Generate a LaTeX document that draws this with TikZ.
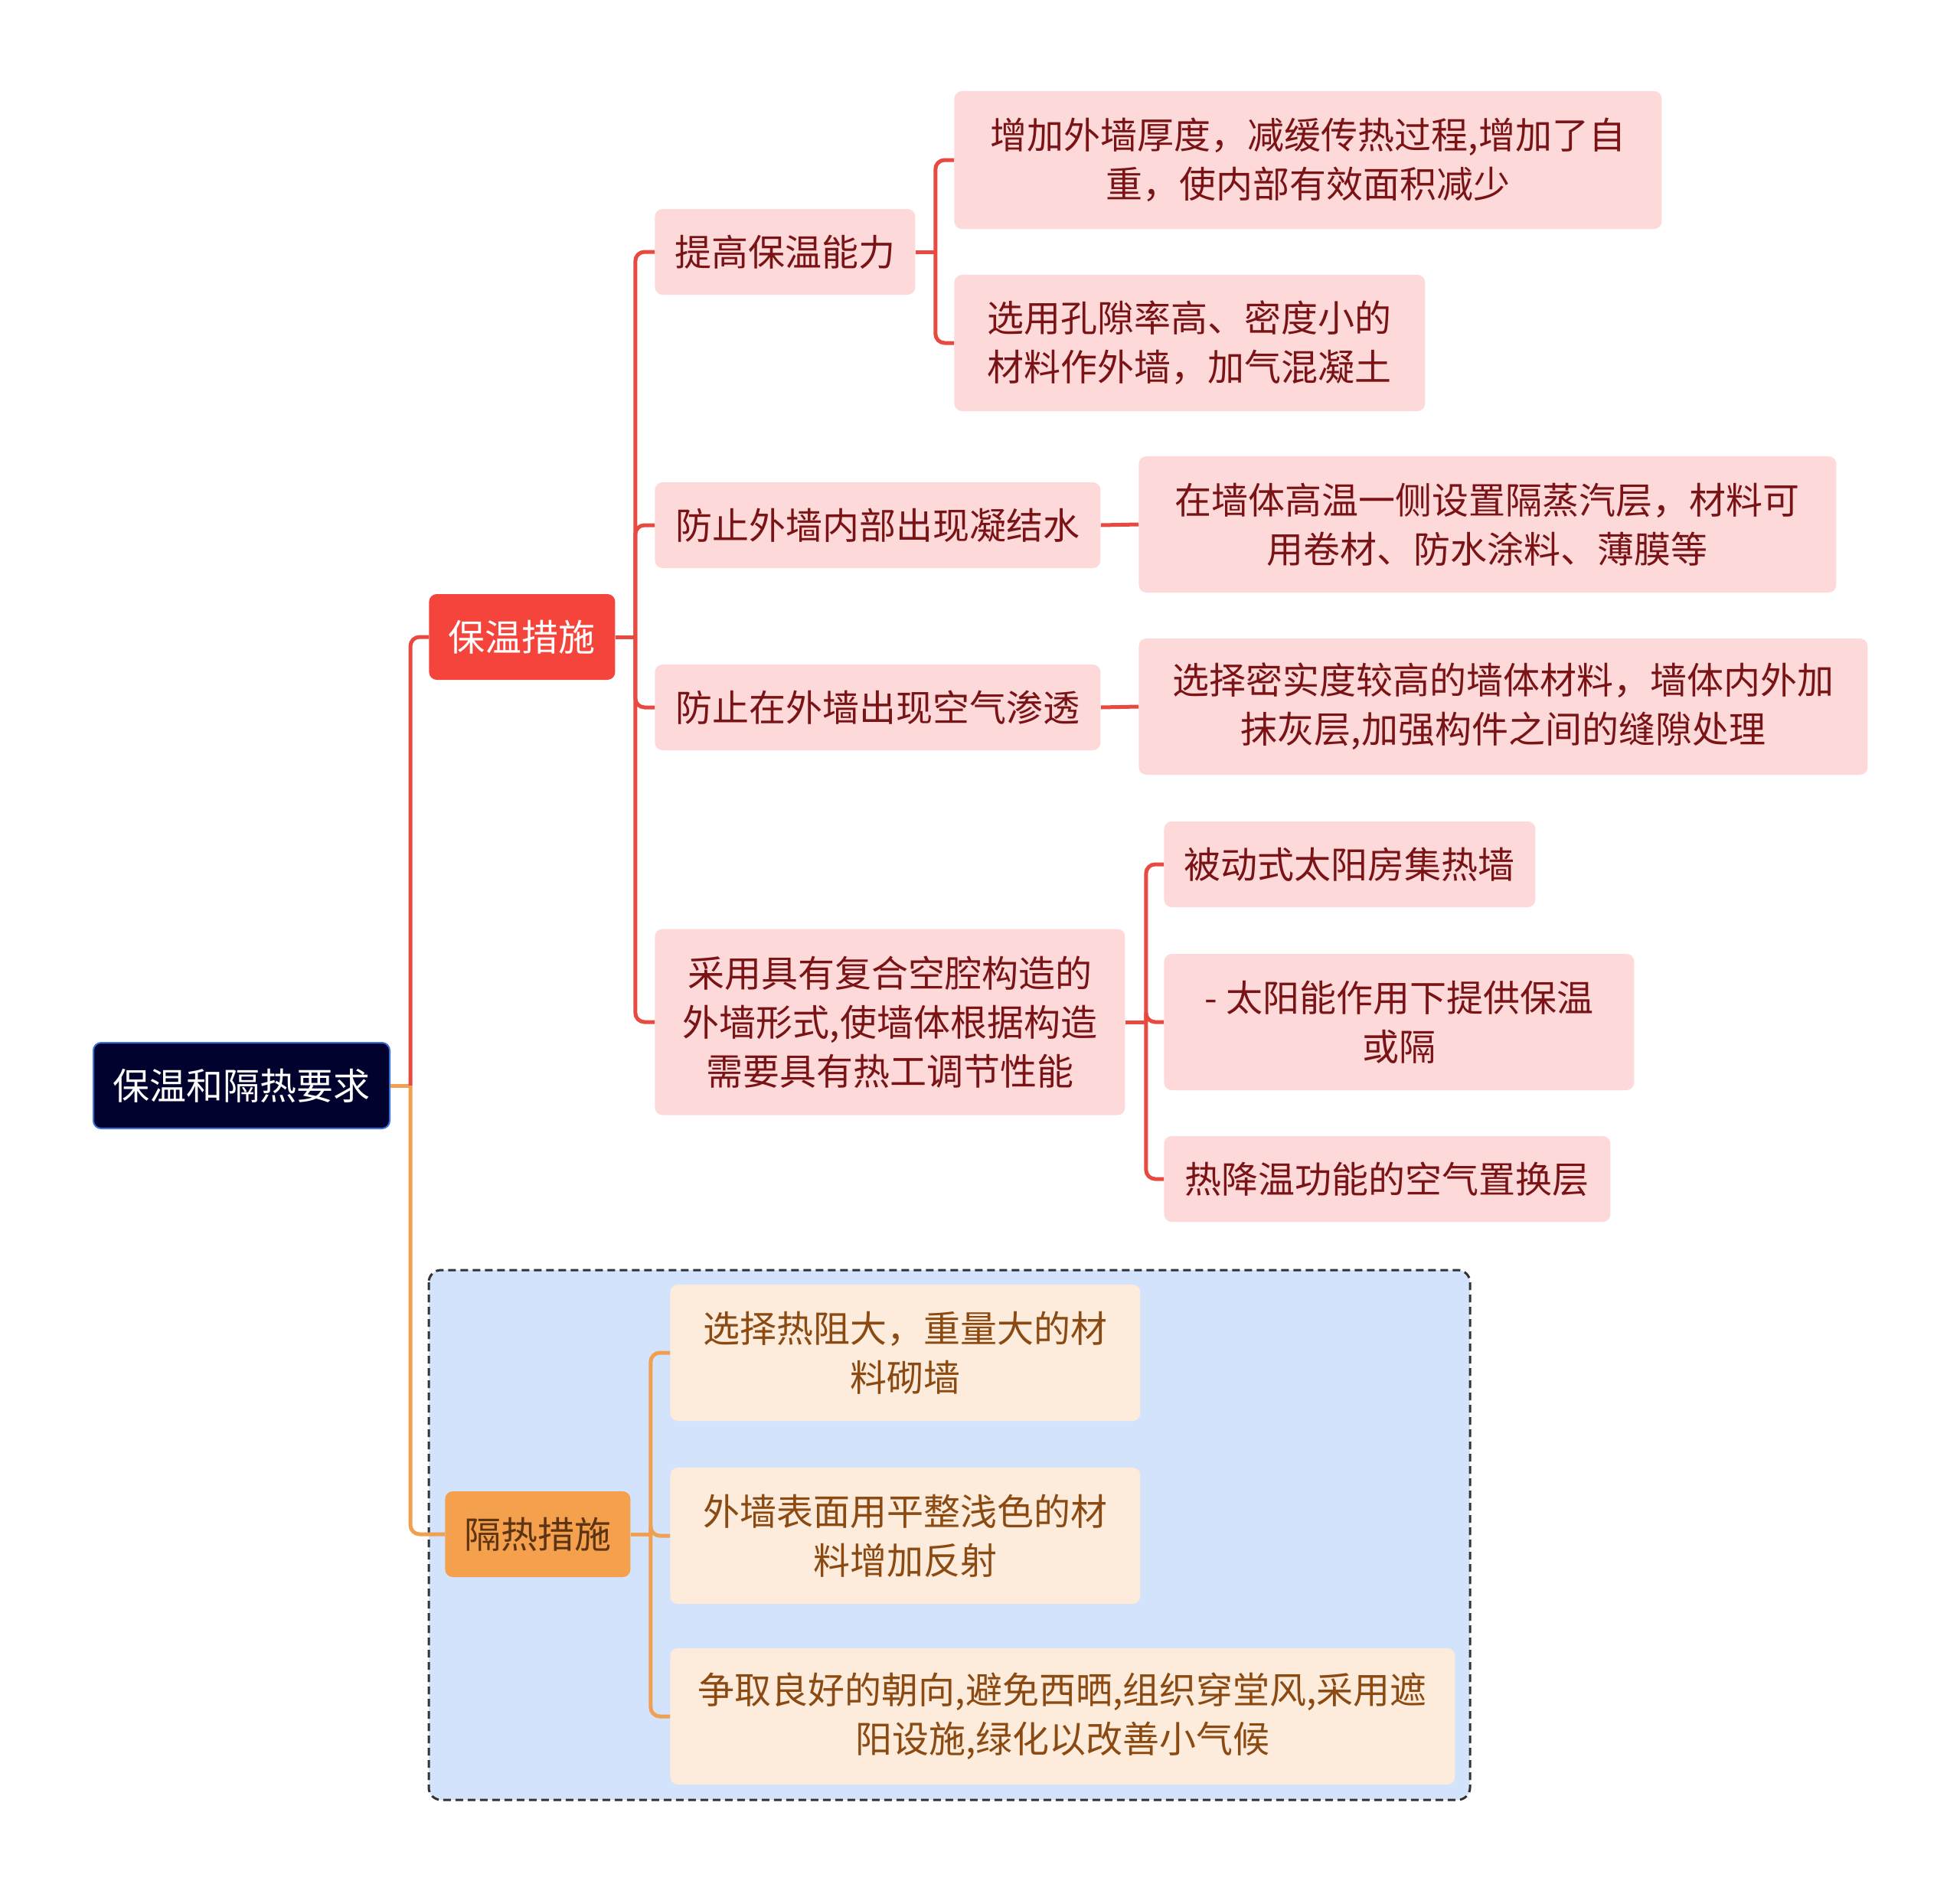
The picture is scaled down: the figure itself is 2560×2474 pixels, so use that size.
\documentclass[tikz,border=0pt]{standalone}
\usepackage{fontspec}
\usepackage{tikz}
\newfontfamily\cjk{Noto Sans CJK SC}
\definecolor{rootfill}{HTML}{02022E}
\definecolor{rootline}{HTML}{3A72D8}
\definecolor{redmain}{HTML}{F5443B}
\definecolor{redline}{HTML}{E84A42}
\definecolor{redsoft}{HTML}{FDD9D9}
\definecolor{redtext}{HTML}{7A1315}
\definecolor{orgmain}{HTML}{F5A04C}
\definecolor{orgline}{HTML}{F0A050}
\definecolor{orgsoft}{HTML}{FDEBDB}
\definecolor{orgtext}{HTML}{8B4A12}
\definecolor{orgdark}{HTML}{5C3412}
\definecolor{groupfill}{HTML}{D3E3FB}
\begin{document}
\begin{tikzpicture}[x=0.5pt, y=-0.5pt,
    every node/.style={anchor=west, rounded corners=5pt, inner sep=0pt, align=center,
        minimum height=56pt, font=\cjk\fontsize{24}{32}\selectfont},
    topic/.style={fill=redmain, text=white},
    redbox/.style={fill=redsoft, text=redtext},
    orgbox/.style={fill=orgsoft, text=orgtext},
    redlink/.style={draw=redline, line width=2.5pt, rounded corners=6pt},
    orglink/.style={draw=orgline, line width=2.5pt, rounded corners=6pt}]
    \useasboundingbox (0,0) rectangle (2560,2474);
    % group frame
    \draw[draw=black!80, fill=groupfill, line width=1.5pt, dash pattern=on 5pt off 3pt, rounded corners=8pt]
        (560,1659) rectangle (1920,2351);

    \node[fill=rootfill, draw=rootline, line width=1pt, text=white, minimum width=193.5pt] (root) at (121,1418) {保温和隔热要求};
    \node[topic, minimum width=121.5pt] (keep) at (560,832) {保温措施};
    \node[fill=orgmain, text=orgdark, minimum width=121pt] (shade) at (581,2004) {隔热措施};

    \node[redbox, minimum width=170pt] (k1) at (855,329) {提高保温能力};
    \node[redbox, minimum width=291pt] (k2) at (855,686) {防止外墙内部出现凝结水};
    \node[redbox, minimum width=291pt] (k3) at (855,924) {防止在外墙出现空气渗透};
    \node[redbox, minimum width=307pt, minimum height=121.5pt] (k4) at (855,1335) {采用具有复合空腔构造的\\外墙形式,使墙体根据构造\\需要具有热工调节性能};

    \node[redbox, minimum width=462pt, minimum height=90pt] (k1a) at (1246,209) {增加外墙厚度，减缓传热过程,增加了自\\重，使内部有效面积减少};
    \node[redbox, minimum width=307.5pt, minimum height=89pt] (k1b) at (1246,448) {选用孔隙率高、密度小的\\材料作外墙，加气混凝土};
    \node[redbox, minimum width=455.5pt, minimum height=89pt] (k2a) at (1487,685) {在墙体高温一侧设置隔蒸汽层，材料可\\用卷材、防水涂料、薄膜等};
    \node[redbox, minimum width=476pt, minimum height=89pt] (k3a) at (1487,923) {选择密实度较高的墙体材料，墙体内外加\\抹灰层,加强构件之间的缝隙处理};
    \node[redbox, minimum width=242.5pt] (k4a) at (1520,1129) {被动式太阳房集热墙};
    \node[redbox, minimum width=307pt, minimum height=89pt] (k4b) at (1520,1335) {- 太阳能作用下提供保温\\或隔};
    \node[redbox, minimum width=291.5pt] (k4c) at (1520,1540) {热降温功能的空气置换层};

    \node[orgbox, minimum width=307pt, minimum height=89pt] (s1) at (875,1767) {选择热阻大，重量大的材\\料砌墙};
    \node[orgbox, minimum width=307pt, minimum height=89pt] (s2) at (875,2006) {外墙表面用平整浅色的材\\料增加反射};
    \node[orgbox, minimum width=512.5pt, minimum height=89pt] (s3) at (875,2242) {争取良好的朝向,避免西晒,组织穿堂风,采用遮\\阳设施,绿化以改善小气候};

    % junctions
    \path (root.east) ++(26,0) coordinate (j0);
    \path (keep.east) ++(26,0) coordinate (j1);
    \path (k1.east) ++(26,0) coordinate (j2);
    \path (k4.east) ++(27,0) coordinate (j3);
    \path (shade.east) ++(26,0) coordinate (j4);

    \draw[orglink] (root.east) -- (j0);
    \draw[redlink] (j0) |- (keep.west);
    \draw[orglink] (j0) |- (shade.west);

    \draw[redlink] (keep.east) -- (j1);
    \foreach \c in {k1,k2,k3,k4}
        \draw[redlink] (j1) |- (\c.west);
    \draw[redlink] (k1.east) -- (j2);
    \foreach \c in {k1a,k1b}
        \draw[redlink] (j2) |- (\c.west);
    \draw[redlink] (k2.east) -- (k2a.west);
    \draw[redlink] (k3.east) -- (k3a.west);
    \draw[redlink] (k4.east) -- (j3);
    \foreach \c in {k4a,k4b,k4c}
        \draw[redlink] (j3) |- (\c.west);

    \draw[orglink] (shade.east) -- (j4);
    \foreach \c in {s1,s2,s3}
        \draw[orglink] (j4) |- (\c.west);
\end{tikzpicture}
\end{document}
